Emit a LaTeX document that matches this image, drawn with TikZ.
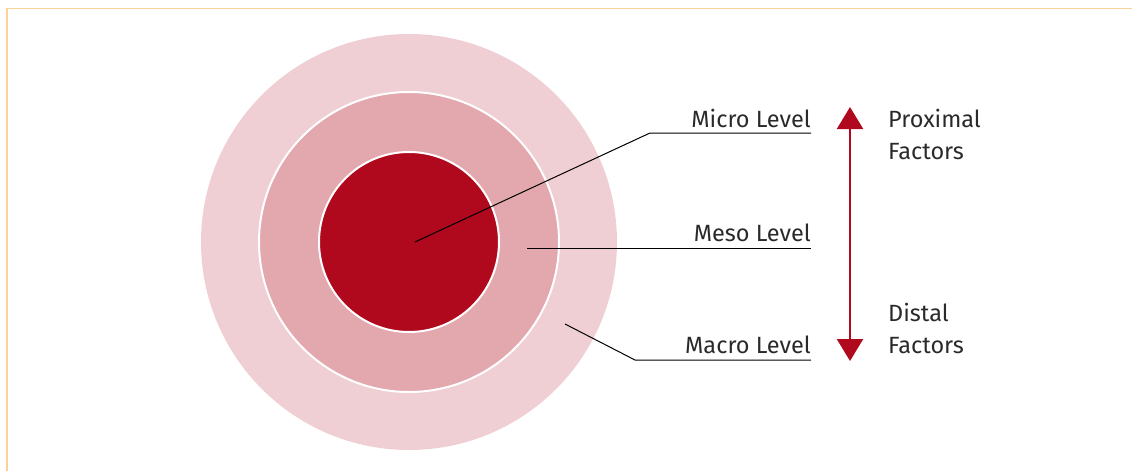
\documentclass[tikz,border=0pt]{standalone}
\usepackage{fontspec}
\setmainfont{Fira Sans}
\usepackage{xcolor}
\usetikzlibrary{arrows.meta, positioning}

\definecolor{framecol}{HTML}{FAD39B}
\definecolor{macrocol}{HTML}{F0CFD4}
\definecolor{mesocol}{HTML}{E3A7AE}
\definecolor{microcol}{HTML}{B0081C}
\definecolor{textcol}{HTML}{2A2A2A}

\tikzset{
  level/.style={circle, draw=white, line width=2pt, inner sep=0pt},
  lbl/.style={anchor=base east, inner sep=0pt, text=textcol},
  side/.style={anchor=base west, inner sep=0pt, text=textcol, align=left},
  leader/.style={draw=black, line width=1pt},
}

\begin{document}
\begin{tikzpicture}[x=1pt, y=-1pt, font=\fontsize{23.5}{32}\selectfont]
\useasboundingbox (0,0) rectangle (1132,471);
\draw[framecol, line width=1.6pt] (6.8,471) -- (6.8,8.5) -- (1132,8.5);

% the three levels
\node[level, draw=none, fill=macrocol, minimum size=416pt] (macro) at (409,242) {};
\node[level, fill=mesocol, minimum size=300pt] (meso) at (409,242) {};
\node[level, fill=microcol, minimum size=180pt] (micro) at (409,242) {};

% labels
\node[lbl] (microlbl) at (811,127) {Micro Level};
\node[lbl] (mesolbl) at (811,241) {Meso Level};
\node[lbl] (macrolbl) at (811,353) {Macro Level};

\coordinate (micropt) at (415,242);
\coordinate (mesopt) at (527,248);
\coordinate (macropt) at (565,324);
\coordinate (microbend) at (650,133);
\coordinate (macrobend) at (635,360);
\coordinate (microend) at (811,133);
\coordinate (mesoend) at (811,248);
\coordinate (macroend) at (811,360);

\draw[leader] (micropt) -- (microbend) -- (microend);
\draw[leader] (mesopt) -- (mesoend);
\draw[leader] (macropt) -- (macrobend) -- (macroend);

% proximal / distal
\coordinate (top) at (850,107);
\coordinate (bottom) at (850,361);
\draw[microcol, line width=2.2pt, {Triangle[width=26pt,length=22pt]}-{Triangle[width=26pt,length=22pt]}] (top) -- (bottom);
\node[side] (prox) at (888,159) {Proximal\\Factors};
\node[side] (dist) at (888,353) {Distal\\Factors};
\end{tikzpicture}
\end{document}
